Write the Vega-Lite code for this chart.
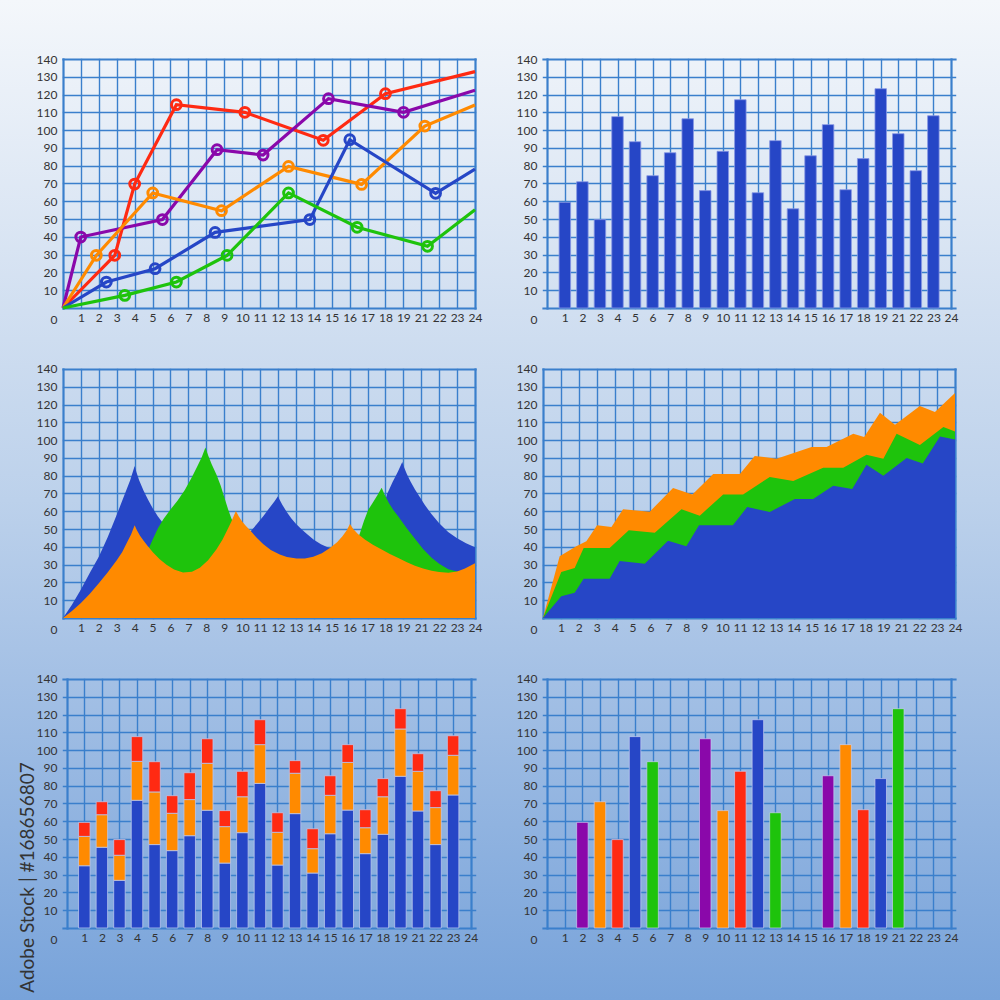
{
  "$schema": "https://vega.github.io/schema/vega-lite/v6.json",
  "padding": 0,
  "background": "#bcd1eb",
  "spacing": 0,
  "bounds": "flush",
  "columns": 2,
  "datasets": {
    "lines": [
      {"s": "red", "x": 0, "y": 0, "m": 0}, {"s": "red", "x": 2.89, "y": 29.6, "m": 1}, {"s": "red", "x": 4.0, "y": 69.7, "m": 1}, {"s": "red", "x": 6.33, "y": 114.3, "m": 1}, {"s": "red", "x": 10.15, "y": 110.0, "m": 1}, {"s": "red", "x": 14.53, "y": 94.3, "m": 1}, {"s": "red", "x": 18.0, "y": 120.5, "m": 1}, {"s": "red", "x": 23, "y": 132.9, "m": 0},
      {"s": "purple", "x": 0, "y": 0, "m": 0}, {"s": "purple", "x": 0.99, "y": 39.9, "m": 1}, {"s": "purple", "x": 5.55, "y": 49.7, "m": 1}, {"s": "purple", "x": 8.6, "y": 89.0, "m": 1}, {"s": "purple", "x": 11.17, "y": 86.0, "m": 1}, {"s": "purple", "x": 14.82, "y": 117.7, "m": 1}, {"s": "purple", "x": 19.01, "y": 110.0, "m": 1}, {"s": "purple", "x": 23, "y": 122.4, "m": 0},
      {"s": "orange", "x": 0, "y": 0, "m": 0}, {"s": "orange", "x": 1.86, "y": 29.6, "m": 1}, {"s": "orange", "x": 5.01, "y": 64.7, "m": 1}, {"s": "orange", "x": 8.85, "y": 54.7, "m": 1}, {"s": "orange", "x": 12.59, "y": 79.6, "m": 1}, {"s": "orange", "x": 16.67, "y": 69.5, "m": 1}, {"s": "orange", "x": 20.2, "y": 102.3, "m": 1}, {"s": "orange", "x": 23, "y": 114.1, "m": 0},
      {"s": "blue", "x": 0, "y": 0, "m": 0}, {"s": "blue", "x": 2.42, "y": 14.6, "m": 1}, {"s": "blue", "x": 5.14, "y": 22.1, "m": 1}, {"s": "blue", "x": 8.49, "y": 42.5, "m": 1}, {"s": "blue", "x": 13.78, "y": 49.7, "m": 1}, {"s": "blue", "x": 16.01, "y": 94.6, "m": 1}, {"s": "blue", "x": 20.8, "y": 64.5, "m": 1}, {"s": "blue", "x": 23, "y": 78.1, "m": 0},
      {"s": "green", "x": 0, "y": 0, "m": 0}, {"s": "green", "x": 3.45, "y": 7.1, "m": 1}, {"s": "green", "x": 6.33, "y": 14.6, "m": 1}, {"s": "green", "x": 9.16, "y": 29.6, "m": 1}, {"s": "green", "x": 12.59, "y": 64.7, "m": 1}, {"s": "green", "x": 16.42, "y": 45.4, "m": 1}, {"s": "green", "x": 20.35, "y": 34.7, "m": 1}, {"s": "green", "x": 23, "y": 55.3, "m": 0}
    ],
    "bars": [
      {"x": 1, "y": 59.4}, {"x": 2, "y": 71.0}, {"x": 3, "y": 49.7}, {"x": 4, "y": 107.6}, {"x": 5, "y": 93.5}, {"x": 6, "y": 74.4}, {"x": 7, "y": 87.3}, {"x": 8, "y": 106.4}, {"x": 9, "y": 66.0}, {"x": 10, "y": 88.1}, {"x": 11, "y": 117.1}, {"x": 12, "y": 64.8}, {"x": 13, "y": 94.1}, {"x": 14, "y": 55.8}, {"x": 15, "y": 85.6}, {"x": 16, "y": 103.1}, {"x": 17, "y": 66.5}, {"x": 18, "y": 84.0}, {"x": 19, "y": 123.3}, {"x": 20, "y": 98.0}, {"x": 21, "y": 77.2}, {"x": 22, "y": 108.1}
    ],
    "stack": [
      {"x": 1, "s": "blue", "y0": 0, "y": 35.0}, {"x": 1, "s": "orange", "y0": 35.0, "y": 51.5}, {"x": 1, "s": "red", "y0": 51.5, "y": 59.4},
      {"x": 2, "s": "blue", "y0": 0, "y": 45.4}, {"x": 2, "s": "orange", "y0": 45.4, "y": 63.7}, {"x": 2, "s": "red", "y0": 63.7, "y": 71.0},
      {"x": 3, "s": "blue", "y0": 0, "y": 26.8}, {"x": 3, "s": "orange", "y0": 26.8, "y": 40.9}, {"x": 3, "s": "red", "y0": 40.9, "y": 49.7},
      {"x": 4, "s": "blue", "y0": 0, "y": 71.8}, {"x": 4, "s": "orange", "y0": 71.8, "y": 93.7}, {"x": 4, "s": "red", "y0": 93.7, "y": 107.6},
      {"x": 5, "s": "blue", "y0": 0, "y": 46.9}, {"x": 5, "s": "orange", "y0": 46.9, "y": 76.5}, {"x": 5, "s": "red", "y0": 76.5, "y": 93.5},
      {"x": 6, "s": "blue", "y0": 0, "y": 43.5}, {"x": 6, "s": "orange", "y0": 43.5, "y": 64.5}, {"x": 6, "s": "red", "y0": 64.5, "y": 74.4},
      {"x": 7, "s": "blue", "y0": 0, "y": 51.9}, {"x": 7, "s": "orange", "y0": 51.9, "y": 72.2}, {"x": 7, "s": "red", "y0": 72.2, "y": 87.3},
      {"x": 8, "s": "blue", "y0": 0, "y": 66.2}, {"x": 8, "s": "orange", "y0": 66.2, "y": 92.6}, {"x": 8, "s": "red", "y0": 92.6, "y": 106.4},
      {"x": 9, "s": "blue", "y0": 0, "y": 36.5}, {"x": 9, "s": "orange", "y0": 36.5, "y": 57.0}, {"x": 9, "s": "red", "y0": 57.0, "y": 66.0},
      {"x": 10, "s": "blue", "y0": 0, "y": 53.6}, {"x": 10, "s": "orange", "y0": 53.6, "y": 73.8}, {"x": 10, "s": "red", "y0": 73.8, "y": 88.1},
      {"x": 11, "s": "blue", "y0": 0, "y": 81.3}, {"x": 11, "s": "orange", "y0": 81.3, "y": 103.1}, {"x": 11, "s": "red", "y0": 103.1, "y": 117.1},
      {"x": 12, "s": "blue", "y0": 0, "y": 35.4}, {"x": 12, "s": "orange", "y0": 35.4, "y": 53.8}, {"x": 12, "s": "red", "y0": 53.8, "y": 64.8},
      {"x": 13, "s": "blue", "y0": 0, "y": 64.3}, {"x": 13, "s": "orange", "y0": 64.3, "y": 87.0}, {"x": 13, "s": "red", "y0": 87.0, "y": 94.1},
      {"x": 14, "s": "blue", "y0": 0, "y": 30.9}, {"x": 14, "s": "orange", "y0": 30.9, "y": 44.6}, {"x": 14, "s": "red", "y0": 44.6, "y": 55.8},
      {"x": 15, "s": "blue", "y0": 0, "y": 53.0}, {"x": 15, "s": "orange", "y0": 53.0, "y": 74.6}, {"x": 15, "s": "red", "y0": 74.6, "y": 85.6},
      {"x": 16, "s": "blue", "y0": 0, "y": 66.3}, {"x": 16, "s": "orange", "y0": 66.3, "y": 93.1}, {"x": 16, "s": "red", "y0": 93.1, "y": 103.1},
      {"x": 17, "s": "blue", "y0": 0, "y": 41.8}, {"x": 17, "s": "orange", "y0": 41.8, "y": 56.4}, {"x": 17, "s": "red", "y0": 56.4, "y": 66.5},
      {"x": 18, "s": "blue", "y0": 0, "y": 52.7}, {"x": 18, "s": "orange", "y0": 52.7, "y": 73.8}, {"x": 18, "s": "red", "y0": 73.8, "y": 84.0},
      {"x": 19, "s": "blue", "y0": 0, "y": 85.3}, {"x": 19, "s": "orange", "y0": 85.3, "y": 111.9}, {"x": 19, "s": "red", "y0": 111.9, "y": 123.3},
      {"x": 20, "s": "blue", "y0": 0, "y": 65.8}, {"x": 20, "s": "orange", "y0": 65.8, "y": 88.1}, {"x": 20, "s": "red", "y0": 88.1, "y": 98.0},
      {"x": 21, "s": "blue", "y0": 0, "y": 46.9}, {"x": 21, "s": "orange", "y0": 46.9, "y": 67.7}, {"x": 21, "s": "red", "y0": 67.7, "y": 77.2},
      {"x": 22, "s": "blue", "y0": 0, "y": 74.8}, {"x": 22, "s": "orange", "y0": 74.8, "y": 97.1}, {"x": 22, "s": "red", "y0": 97.1, "y": 108.1}
    ],
    "cbars": [
      {"x": 2, "s": "purple", "y": 59.4}, {"x": 3, "s": "orange", "y": 71.0}, {"x": 4, "s": "red", "y": 49.7}, {"x": 5, "s": "blue", "y": 107.6}, {"x": 6, "s": "green", "y": 93.5},
      {"x": 9, "s": "purple", "y": 106.4}, {"x": 10, "s": "orange", "y": 66.0}, {"x": 11, "s": "red", "y": 88.1}, {"x": 12, "s": "blue", "y": 117.1}, {"x": 13, "s": "green", "y": 64.8},
      {"x": 16, "s": "purple", "y": 85.6}, {"x": 17, "s": "orange", "y": 103.1}, {"x": 18, "s": "red", "y": 66.5}, {"x": 19, "s": "blue", "y": 84.0}, {"x": 20, "s": "green", "y": 123.3}
    ],
    "waves": [
      {"s": "blue", "x": 0, "y": 0}, {"s": "blue", "x": 0.5, "y": 7.5}, {"s": "blue", "x": 1, "y": 16}, {"s": "blue", "x": 1.5, "y": 25.5}, {"s": "blue", "x": 2, "y": 34.5}, {"s": "blue", "x": 2.5, "y": 45.5}, {"s": "blue", "x": 3, "y": 58}, {"s": "blue", "x": 3.25, "y": 64.5}, {"s": "blue", "x": 3.5, "y": 71}, {"s": "blue", "x": 3.75, "y": 77.5}, {"s": "blue", "x": 4, "y": 85.4},
      {"s": "blue", "x": 4.1, "y": 82}, {"s": "blue", "x": 4.25, "y": 77.5}, {"s": "blue", "x": 4.5, "y": 71.5}, {"s": "blue", "x": 4.75, "y": 66.5}, {"s": "blue", "x": 5, "y": 61.8}, {"s": "blue", "x": 5.3, "y": 57}, {"s": "blue", "x": 5.6, "y": 53.2}, {"s": "blue", "x": 6, "y": 49}, {"s": "blue", "x": 6.5, "y": 44.5}, {"s": "blue", "x": 7, "y": 41}, {"s": "blue", "x": 7.5, "y": 38.5}, {"s": "blue", "x": 8, "y": 37}, {"s": "blue", "x": 8.4, "y": 36.3}, {"s": "blue", "x": 8.8, "y": 37}, {"s": "blue", "x": 9.2, "y": 38.5}, {"s": "blue", "x": 9.6, "y": 41}, {"s": "blue", "x": 10, "y": 44}, {"s": "blue", "x": 10.4, "y": 48}, {"s": "blue", "x": 10.8, "y": 52.5}, {"s": "blue", "x": 11.2, "y": 57.5}, {"s": "blue", "x": 11.5, "y": 61.5}, {"s": "blue", "x": 11.8, "y": 65.5}, {"s": "blue", "x": 12, "y": 68.4},
      {"s": "blue", "x": 12.1, "y": 66.3}, {"s": "blue", "x": 12.25, "y": 63.5}, {"s": "blue", "x": 12.5, "y": 59.5}, {"s": "blue", "x": 12.75, "y": 56}, {"s": "blue", "x": 13, "y": 53}, {"s": "blue", "x": 13.3, "y": 50}, {"s": "blue", "x": 13.6, "y": 47.3}, {"s": "blue", "x": 14, "y": 44}, {"s": "blue", "x": 14.4, "y": 41.5}, {"s": "blue", "x": 14.8, "y": 39.6}, {"s": "blue", "x": 15.2, "y": 38.3}, {"s": "blue", "x": 15.6, "y": 37.8}, {"s": "blue", "x": 16, "y": 38.3}, {"s": "blue", "x": 16.5, "y": 40.5}, {"s": "blue", "x": 17, "y": 45}, {"s": "blue", "x": 17.4, "y": 51}, {"s": "blue", "x": 17.8, "y": 60}, {"s": "blue", "x": 18.1, "y": 69.8}, {"s": "blue", "x": 18.4, "y": 76.5}, {"s": "blue", "x": 18.7, "y": 82.3}, {"s": "blue", "x": 18.94, "y": 87.7},
      {"s": "blue", "x": 19.05, "y": 84.5}, {"s": "blue", "x": 19.2, "y": 80.8}, {"s": "blue", "x": 19.4, "y": 76.8}, {"s": "blue", "x": 19.65, "y": 72.3}, {"s": "blue", "x": 19.9, "y": 68.3}, {"s": "blue", "x": 20.2, "y": 63.5}, {"s": "blue", "x": 20.58, "y": 58.3}, {"s": "blue", "x": 21, "y": 53.3}, {"s": "blue", "x": 21.5, "y": 48.3}, {"s": "blue", "x": 22, "y": 44.8}, {"s": "blue", "x": 22.5, "y": 42}, {"s": "blue", "x": 23, "y": 39.8},
      {"s": "green", "x": 0, "y": 0}, {"s": "green", "x": 1, "y": 3}, {"s": "green", "x": 2, "y": 7}, {"s": "green", "x": 3, "y": 13}, {"s": "green", "x": 4, "y": 22}, {"s": "green", "x": 4.4, "y": 29}, {"s": "green", "x": 4.7, "y": 37}, {"s": "green", "x": 5.0, "y": 44}, {"s": "green", "x": 5.3, "y": 50.5}, {"s": "green", "x": 5.6, "y": 55.5}, {"s": "green", "x": 6, "y": 61}, {"s": "green", "x": 6.4, "y": 66}, {"s": "green", "x": 6.8, "y": 72}, {"s": "green", "x": 7.2, "y": 79.3}, {"s": "green", "x": 7.5, "y": 85.3}, {"s": "green", "x": 7.75, "y": 90.5}, {"s": "green", "x": 7.95, "y": 95.8},
      {"s": "green", "x": 8.1, "y": 91.5}, {"s": "green", "x": 8.3, "y": 86.5}, {"s": "green", "x": 8.57, "y": 80.5}, {"s": "green", "x": 8.8, "y": 74.5}, {"s": "green", "x": 9.0, "y": 68}, {"s": "green", "x": 9.22, "y": 61}, {"s": "green", "x": 9.4, "y": 56}, {"s": "green", "x": 9.7, "y": 50}, {"s": "green", "x": 10, "y": 45}, {"s": "green", "x": 10.5, "y": 38.5}, {"s": "green", "x": 11, "y": 33.5}, {"s": "green", "x": 12, "y": 27.5}, {"s": "green", "x": 13, "y": 24}, {"s": "green", "x": 14, "y": 22.5}, {"s": "green", "x": 15, "y": 23}, {"s": "green", "x": 15.5, "y": 26}, {"s": "green", "x": 16, "y": 33}, {"s": "green", "x": 16.3, "y": 40}, {"s": "green", "x": 16.58, "y": 47.8}, {"s": "green", "x": 16.8, "y": 54.5}, {"s": "green", "x": 17.04, "y": 60.9}, {"s": "green", "x": 17.3, "y": 65}, {"s": "green", "x": 17.55, "y": 69}, {"s": "green", "x": 17.79, "y": 73.3},
      {"s": "green", "x": 17.95, "y": 69.5}, {"s": "green", "x": 18.2, "y": 64.5}, {"s": "green", "x": 18.45, "y": 60.6}, {"s": "green", "x": 18.72, "y": 57.1}, {"s": "green", "x": 19.2, "y": 50.3}, {"s": "green", "x": 19.65, "y": 44.5}, {"s": "green", "x": 20.1, "y": 38.8}, {"s": "green", "x": 20.58, "y": 33.9}, {"s": "green", "x": 21, "y": 30.5}, {"s": "green", "x": 21.51, "y": 27.4}, {"s": "green", "x": 22, "y": 26.2}, {"s": "green", "x": 22.44, "y": 26.5}, {"s": "green", "x": 23, "y": 28.0},
      {"s": "orange", "x": 0, "y": 0}, {"s": "orange", "x": 0.5, "y": 4}, {"s": "orange", "x": 1, "y": 8.5}, {"s": "orange", "x": 1.5, "y": 13.7}, {"s": "orange", "x": 2, "y": 19.5}, {"s": "orange", "x": 2.5, "y": 25.7}, {"s": "orange", "x": 3, "y": 32.5}, {"s": "orange", "x": 3.3, "y": 37}, {"s": "orange", "x": 3.6, "y": 43}, {"s": "orange", "x": 3.8, "y": 47}, {"s": "orange", "x": 4, "y": 52.2},
      {"s": "orange", "x": 4.12, "y": 49.5}, {"s": "orange", "x": 4.3, "y": 46.3}, {"s": "orange", "x": 4.5, "y": 43.5}, {"s": "orange", "x": 4.75, "y": 40.2}, {"s": "orange", "x": 5.03, "y": 36.8}, {"s": "orange", "x": 5.4, "y": 33}, {"s": "orange", "x": 5.78, "y": 30}, {"s": "orange", "x": 6.2, "y": 27.3}, {"s": "orange", "x": 6.7, "y": 25.6}, {"s": "orange", "x": 7.2, "y": 26}, {"s": "orange", "x": 7.64, "y": 28.2}, {"s": "orange", "x": 8.1, "y": 32.5}, {"s": "orange", "x": 8.57, "y": 38.6}, {"s": "orange", "x": 8.9, "y": 44}, {"s": "orange", "x": 9.15, "y": 49}, {"s": "orange", "x": 9.4, "y": 54.3}, {"s": "orange", "x": 9.65, "y": 60.2},
      {"s": "orange", "x": 9.8, "y": 57.3}, {"s": "orange", "x": 10.0, "y": 54.2}, {"s": "orange", "x": 10.2, "y": 51.8}, {"s": "orange", "x": 10.43, "y": 49.5}, {"s": "orange", "x": 10.8, "y": 45.3}, {"s": "orange", "x": 11.17, "y": 41.6}, {"s": "orange", "x": 11.6, "y": 38.3}, {"s": "orange", "x": 12.1, "y": 35.7}, {"s": "orange", "x": 12.5, "y": 34.3}, {"s": "orange", "x": 13.04, "y": 33.4}, {"s": "orange", "x": 13.5, "y": 33.5}, {"s": "orange", "x": 13.97, "y": 34.5}, {"s": "orange", "x": 14.45, "y": 36.4}, {"s": "orange", "x": 14.9, "y": 39.4}, {"s": "orange", "x": 15.3, "y": 42.6}, {"s": "orange", "x": 15.6, "y": 46}, {"s": "orange", "x": 15.85, "y": 49.5}, {"s": "orange", "x": 16.02, "y": 52.8},
      {"s": "orange", "x": 16.2, "y": 50}, {"s": "orange", "x": 16.45, "y": 47.3}, {"s": "orange", "x": 16.85, "y": 44.2}, {"s": "orange", "x": 17.3, "y": 41.2}, {"s": "orange", "x": 17.79, "y": 38.5}, {"s": "orange", "x": 18.25, "y": 36}, {"s": "orange", "x": 18.72, "y": 33.8}, {"s": "orange", "x": 19.2, "y": 31.4}, {"s": "orange", "x": 19.65, "y": 29.4}, {"s": "orange", "x": 20.1, "y": 27.8}, {"s": "orange", "x": 20.58, "y": 26.5}, {"s": "orange", "x": 21, "y": 25.8}, {"s": "orange", "x": 21.51, "y": 25.5}, {"s": "orange", "x": 22, "y": 26.2}, {"s": "orange", "x": 22.44, "y": 27.8}, {"s": "orange", "x": 23, "y": 30.8}
    ],
    "steps": [
      {"s": "blue", "x": 0, "y": 0}, {"s": "blue", "x": 1.02, "y": 12.2}, {"s": "blue", "x": 1.77, "y": 14.2}, {"s": "blue", "x": 2.27, "y": 22.1}, {"s": "blue", "x": 3.72, "y": 22.1}, {"s": "blue", "x": 4.28, "y": 32.0}, {"s": "blue", "x": 5.68, "y": 30.5}, {"s": "blue", "x": 6.98, "y": 43.5}, {"s": "blue", "x": 8.0, "y": 40.3}, {"s": "blue", "x": 8.71, "y": 52.1}, {"s": "blue", "x": 10.6, "y": 52.1}, {"s": "blue", "x": 11.4, "y": 62.4}, {"s": "blue", "x": 12.66, "y": 59.6}, {"s": "blue", "x": 14.06, "y": 66.9}, {"s": "blue", "x": 15.08, "y": 66.9}, {"s": "blue", "x": 16.2, "y": 74.4}, {"s": "blue", "x": 17.26, "y": 72.5}, {"s": "blue", "x": 18.06, "y": 86.2}, {"s": "blue", "x": 19.0, "y": 80.0}, {"s": "blue", "x": 20.3, "y": 90.0}, {"s": "blue", "x": 21.2, "y": 86.8}, {"s": "blue", "x": 22.16, "y": 102.1}, {"s": "blue", "x": 23, "y": 100.3},
      {"s": "green", "x": 0, "y": 0}, {"s": "green", "x": 1.02, "y": 25.9}, {"s": "green", "x": 1.77, "y": 28.1}, {"s": "green", "x": 2.27, "y": 39.4}, {"s": "green", "x": 3.72, "y": 39.4}, {"s": "green", "x": 4.79, "y": 49.3}, {"s": "green", "x": 6.24, "y": 48.0}, {"s": "green", "x": 7.73, "y": 61.1}, {"s": "green", "x": 8.75, "y": 57.5}, {"s": "green", "x": 10.06, "y": 69.5}, {"s": "green", "x": 11.17, "y": 69.5}, {"s": "green", "x": 12.66, "y": 79.3}, {"s": "green", "x": 13.97, "y": 77.0}, {"s": "green", "x": 15.64, "y": 84.5}, {"s": "green", "x": 16.76, "y": 84.5}, {"s": "green", "x": 18.06, "y": 91.8}, {"s": "green", "x": 19.0, "y": 89.6}, {"s": "green", "x": 19.74, "y": 103.6}, {"s": "green", "x": 21.04, "y": 97.3}, {"s": "green", "x": 22.35, "y": 107.4}, {"s": "green", "x": 23, "y": 104.9},
      {"s": "orange", "x": 0, "y": 0}, {"s": "orange", "x": 0.93, "y": 34.7}, {"s": "orange", "x": 1.86, "y": 40.3}, {"s": "orange", "x": 2.42, "y": 43.1}, {"s": "orange", "x": 3.02, "y": 52.1}, {"s": "orange", "x": 3.82, "y": 51.2}, {"s": "orange", "x": 4.47, "y": 61.1}, {"s": "orange", "x": 5.96, "y": 59.8}, {"s": "orange", "x": 7.26, "y": 73.1}, {"s": "orange", "x": 8.34, "y": 69.5}, {"s": "orange", "x": 9.5, "y": 81.0}, {"s": "orange", "x": 10.99, "y": 81.0}, {"s": "orange", "x": 11.82, "y": 91.1}, {"s": "orange", "x": 13.04, "y": 89.6}, {"s": "orange", "x": 14.99, "y": 96.1}, {"s": "orange", "x": 15.83, "y": 96.1}, {"s": "orange", "x": 17.32, "y": 103.6}, {"s": "orange", "x": 17.93, "y": 101.8}, {"s": "orange", "x": 18.81, "y": 115.4}, {"s": "orange", "x": 19.65, "y": 108.7}, {"s": "orange", "x": 21.04, "y": 119.2}, {"s": "orange", "x": 21.88, "y": 115.8}, {"s": "orange", "x": 23, "y": 126.5}
    ]
  },
  "concat": [
    {
      "width": 509, "height": 339,
      "view": {"stroke": null, "fill": {"gradient": "linear", "x1": 0, "y1": 0, "x2": 0, "y2": 1, "stops": [{"offset": 0, "color": "#f4f7fb"}, {"offset": 1, "color": "#ceddf0"}]}},
      "data": {"name": "lines"},
      "encoding": {
        "x": {"field": "x", "type": "quantitative", "scale": {"domain": [-3.517, 24.898], "nice": false, "zero": false},
          "axis": {"title": null, "offset": -31, "values": [0,1,2,3,4,5,6,7,8,9,10,11,12,13,14,15,16,17,18,19,20,21,22,23], "labelExpr": "datum.value == 0 ? '' : (datum.value >= 20 ? '' + (datum.value + 1) : '' + datum.value)", "tickWidth": {"condition": {"test": "datum.value == 0 || datum.value == 23", "value": 2.2}, "value": 1.4}}},
        "y": {"field": "y", "type": "quantitative", "stack": null, "scale": {"domain": [-17.43, 173.173], "nice": false, "zero": false},
          "axis": {"title": null, "offset": -63, "values": [0,10,20,30,40,50,60,70,80,90,100,110,120,130,140], "tickWidth": {"condition": {"test": "datum.value == 0 || datum.value == 140", "value": 2.2}, "value": 1.4}, "labelOffset": {"condition": {"test": "datum.value == 0", "value": 12}, "value": 0}}},
        "color": {"field": "s", "type": "nominal", "legend": null, "scale": {"domain": ["blue", "green", "orange", "red", "purple"], "range": ["#2646c6", "#1ec30c", "#ff8a00", "#ff2a12", "#8a08aa"]}}
      },
      "layer": [
        {"mark": {"type": "line", "strokeWidth": 3.2}},
        {"transform": [{"filter": "datum.m == 1"}], "mark": {"type": "point", "filled": false, "size": 95, "strokeWidth": 3, "opacity": 1}}
      ]
    },
    {
      "width": 491, "height": 339,
      "view": {"stroke": null, "fill": {"gradient": "linear", "x1": 0, "y1": 0, "x2": 0, "y2": 1, "stops": [{"offset": 0, "color": "#f4f7fb"}, {"offset": 1, "color": "#ceddf0"}]}},
      "data": {"name": "bars"},
      "mark": {"type": "bar", "size": 11.5, "color": "#2646c6", "stroke": "#8797e3", "strokeWidth": 0.8},
      "encoding": {
        "x": {"field": "x", "type": "quantitative", "scale": {"domain": [-1.898, 25.512], "nice": false, "zero": false},
          "axis": {"title": null, "offset": -31, "values": [0,1,2,3,4,5,6,7,8,9,10,11,12,13,14,15,16,17,18,19,20,21,22,23], "labelExpr": "datum.value == 0 ? '' : (datum.value >= 20 ? '' + (datum.value + 1) : '' + datum.value)", "tickWidth": {"condition": {"test": "datum.value == 0 || datum.value == 23", "value": 2.2}, "value": 1.4}}},
        "y": {"field": "y", "type": "quantitative", "stack": null, "scale": {"domain": [-17.43, 173.173], "nice": false, "zero": false},
          "axis": {"title": null, "offset": -34, "values": [0,10,20,30,40,50,60,70,80,90,100,110,120,130,140], "tickWidth": {"condition": {"test": "datum.value == 0 || datum.value == 140", "value": 2.2}, "value": 1.4}, "labelOffset": {"condition": {"test": "datum.value == 0", "value": 12}, "value": 0}}}
      }
    },
    {
      "width": 509, "height": 310,
      "view": {"stroke": null, "fill": {"gradient": "linear", "x1": 0, "y1": 0, "x2": 0, "y2": 1, "stops": [{"offset": 0, "color": "#ceddf0"}, {"offset": 0.52, "color": "#bcd1eb"}, {"offset": 1, "color": "#a8c3e6"}]}},
      "data": {"name": "waves"},
      "encoding": {
        "x": {"field": "x", "type": "quantitative", "scale": {"domain": [-3.517, 24.898], "nice": false, "zero": false},
          "axis": {"title": null, "offset": -31, "values": [0,1,2,3,4,5,6,7,8,9,10,11,12,13,14,15,16,17,18,19,20,21,22,23], "labelExpr": "datum.value == 0 ? '' : (datum.value >= 20 ? '' + (datum.value + 1) : '' + datum.value)", "tickWidth": {"condition": {"test": "datum.value == 0 || datum.value == 23", "value": 2.2}, "value": 1.4}}},
        "y": {"field": "y", "type": "quantitative", "stack": null, "scale": {"domain": [-17.43, 156.867], "nice": false, "zero": false},
          "axis": {"title": null, "offset": -63, "values": [0,10,20,30,40,50,60,70,80,90,100,110,120,130,140], "tickWidth": {"condition": {"test": "datum.value == 0 || datum.value == 140", "value": 2.2}, "value": 1.4}, "labelOffset": {"condition": {"test": "datum.value == 0", "value": 12}, "value": 0}}}
      },
      "layer": [
        {"transform": [{"filter": "datum.s == 'blue'"}], "mark": {"type": "area", "color": "#2646c6"}},
        {"transform": [{"filter": "datum.s == 'green'"}], "mark": {"type": "area", "color": "#1ec30c"}},
        {"transform": [{"filter": "datum.s == 'orange'"}], "mark": {"type": "area", "color": "#ff8a00"}}
      ]
    },
    {
      "width": 491, "height": 310,
      "view": {"stroke": null, "fill": {"gradient": "linear", "x1": 0, "y1": 0, "x2": 0, "y2": 1, "stops": [{"offset": 0, "color": "#ceddf0"}, {"offset": 0.52, "color": "#bcd1eb"}, {"offset": 1, "color": "#a8c3e6"}]}},
      "data": {"name": "steps"},
      "encoding": {
        "x": {"field": "x", "type": "quantitative", "scale": {"domain": [-1.898, 25.512], "nice": false, "zero": false},
          "axis": {"title": null, "offset": -31, "values": [0,1,2,3,4,5,6,7,8,9,10,11,12,13,14,15,16,17,18,19,20,21,22,23], "labelExpr": "datum.value == 0 ? '' : (datum.value >= 20 ? '' + (datum.value + 1) : '' + datum.value)", "tickWidth": {"condition": {"test": "datum.value == 0 || datum.value == 23", "value": 2.2}, "value": 1.4}}},
        "y": {"field": "y", "type": "quantitative", "stack": null, "scale": {"domain": [-17.43, 156.867], "nice": false, "zero": false},
          "axis": {"title": null, "offset": -34, "values": [0,10,20,30,40,50,60,70,80,90,100,110,120,130,140], "tickWidth": {"condition": {"test": "datum.value == 0 || datum.value == 140", "value": 2.2}, "value": 1.4}, "labelOffset": {"condition": {"test": "datum.value == 0", "value": 12}, "value": 0}}}
      },
      "layer": [
        {"transform": [{"filter": "datum.s == 'orange'"}], "mark": {"type": "area", "color": "#ff8a00"}},
        {"transform": [{"filter": "datum.s == 'green'"}], "mark": {"type": "area", "color": "#1ec30c"}},
        {"transform": [{"filter": "datum.s == 'blue'"}], "mark": {"type": "area", "color": "#2646c6"}}
      ]
    },
    {
      "width": 509, "height": 351,
      "view": {"stroke": null, "fill": {"gradient": "linear", "x1": 0, "y1": 0, "x2": 0, "y2": 1, "stops": [{"offset": 0, "color": "#a8c3e6"}, {"offset": 1, "color": "#78a3da"}]}},
      "data": {"name": "stack"},
      "mark": {"type": "bar", "size": 11.5, "stroke": "#b9c6ee", "strokeWidth": 0.8},
      "encoding": {
        "x": {"field": "x", "type": "quantitative", "scale": {"domain": [-3.517, 24.898], "nice": false, "zero": false},
          "axis": {"title": null, "offset": -72, "values": [0,1,2,3,4,5,6,7,8,9,10,11,12,13,14,15,16,17,18,19,20,21,22,23], "labelExpr": "datum.value == 0 ? '' : (datum.value >= 20 ? '' + (datum.value + 1) : '' + datum.value)", "tickWidth": {"condition": {"test": "datum.value == 0 || datum.value == 23", "value": 2.2}, "value": 1.4}}},
        "y": {"field": "y", "type": "quantitative", "stack": null, "scale": {"domain": [-40.482, 156.867], "nice": false, "zero": false},
          "axis": {"title": "Adobe Stock | #168656807", "titleX": -30, "titleY": 228, "titleAngle": 270, "titleBaseline": "alphabetic", "titleAlign": "center", "titleFont": "Lato", "titleFontSize": 19, "titleFontWeight": "normal", "titleColor": "#333333", "offset": -63, "values": [0,10,20,30,40,50,60,70,80,90,100,110,120,130,140], "tickWidth": {"condition": {"test": "datum.value == 0 || datum.value == 140", "value": 2.2}, "value": 1.4}, "labelOffset": {"condition": {"test": "datum.value == 0", "value": 12}, "value": 0}}},
        "y2": {"field": "y0"},
        "color": {"field": "s", "type": "nominal", "legend": null, "scale": {"domain": ["blue", "green", "orange", "red", "purple"], "range": ["#2646c6", "#1ec30c", "#ff8a00", "#ff2a12", "#8a08aa"]}}
      }
    },
    {
      "width": 491, "height": 351,
      "view": {"stroke": null, "fill": {"gradient": "linear", "x1": 0, "y1": 0, "x2": 0, "y2": 1, "stops": [{"offset": 0, "color": "#a8c3e6"}, {"offset": 1, "color": "#78a3da"}]}},
      "data": {"name": "cbars"},
      "mark": {"type": "bar", "size": 11.5, "stroke": "#c6cdf0", "strokeWidth": 0.7},
      "encoding": {
        "x": {"field": "x", "type": "quantitative", "scale": {"domain": [-1.898, 25.512], "nice": false, "zero": false},
          "axis": {"title": null, "offset": -72, "values": [0,1,2,3,4,5,6,7,8,9,10,11,12,13,14,15,16,17,18,19,20,21,22,23], "labelExpr": "datum.value == 0 ? '' : (datum.value >= 20 ? '' + (datum.value + 1) : '' + datum.value)", "tickWidth": {"condition": {"test": "datum.value == 0 || datum.value == 23", "value": 2.2}, "value": 1.4}}},
        "y": {"field": "y", "type": "quantitative", "stack": null, "scale": {"domain": [-40.482, 156.867], "nice": false, "zero": false},
          "axis": {"title": null, "offset": -34, "values": [0,10,20,30,40,50,60,70,80,90,100,110,120,130,140], "tickWidth": {"condition": {"test": "datum.value == 0 || datum.value == 140", "value": 2.2}, "value": 1.4}, "labelOffset": {"condition": {"test": "datum.value == 0", "value": 12}, "value": 0}}},
        "color": {"field": "s", "type": "nominal", "legend": null, "scale": {"domain": ["blue", "green", "orange", "red", "purple"], "range": ["#2646c6", "#1ec30c", "#ff8a00", "#ff2a12", "#8a08aa"]}}
      }
    }
  ],
  "config": {
    "view": {"stroke": null},
    "axis": {"domain": false, "grid": false, "ticks": true, "tickColor": "#3a7fcc", "tickCap": "square", "labelFont": "Lato", "labelFontSize": 12, "labelColor": "#333333", "labelFlush": false, "labelOverlap": false},
    "axisX": {"tickSize": -249, "labelPadding": 253},
    "axisY": {"tickSize": -412, "labelPadding": 418}
  }
}
